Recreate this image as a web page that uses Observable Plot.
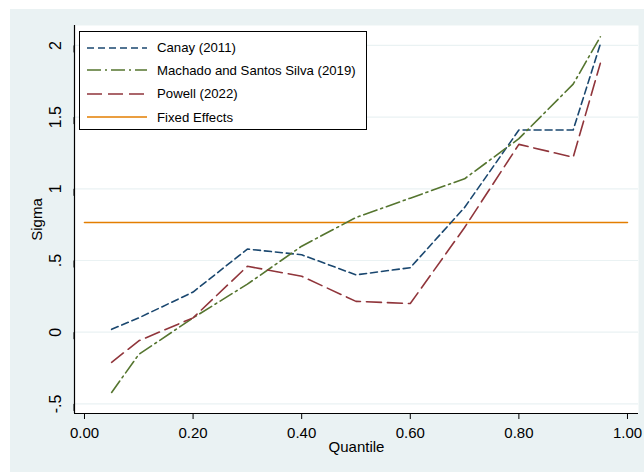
<!DOCTYPE html>
<html><head><meta charset="utf-8">
<script src="https://cdn.jsdelivr.net/npm/d3@7"></script>
<script src="https://cdn.jsdelivr.net/npm/@observablehq/plot@0.6"></script>
<style>
body{margin:0;background:#fff;font-family:"Liberation Sans",Arial,sans-serif;}
#wrap{position:relative;width:644px;height:472px;overflow:hidden;}
#chart{position:absolute;left:10px;top:9px;}
#legend{position:absolute;left:79px;top:31px;width:286px;height:97px;border:1px solid #000;background:#fff;}
.row{position:absolute;left:0;height:20px;display:flex;align-items:center;font-size:13.2px;color:#000;white-space:nowrap;}
.row svg{margin-left:7px;margin-right:10px;}
</style></head><body><div id="wrap"><div id="chart"></div><div id="legend"></div></div>
<script>
// ---- data ----
const quantiles = [0.05, 0.1, 0.2, 0.3, 0.4, 0.5, 0.6, 0.7, 0.8, 0.9, 0.95];
const canay   = [0.02, 0.10, 0.28, 0.58, 0.54, 0.40, 0.45, 0.87, 1.41, 1.41, 2.01];
const machado = [-0.42, -0.155, 0.10, 0.335, 0.60, 0.80, 0.935, 1.07, 1.35, 1.73, 2.06];
const powell  = [-0.21, -0.06, 0.10, 0.46, 0.39, 0.215, 0.20, 0.73, 1.31, 1.22, 1.875];
const fixedEffects = 0.765;
const feQuantiles = [0, 1];
const seriesNames = ["Canay (2011)", "Machado and Santos Silva (2019)", "Powell (2022)", "Fixed Effects"];
const xTicks = [0, 0.2, 0.4, 0.6, 0.8, 1];
const yTicks = [-0.5, 0, 0.5, 1, 1.5, 2];
const yTickLabels = ["-.5", "0", ".5", "1", "1.5", "2"];
const xTitle = "Quantile";
const yTitle = "Sigma";

// ---- styles ----
const colors = ["#1a476f", "#55752f", "#90353b", "#e37e00"];
const dashes = ["7,4", "14,4,2,4", "15,6", null];
const bg = "#eaf2f3";

const rows = [];
[canay, machado, powell].forEach((arr, s) => arr.forEach((v, i) => rows.push({q: quantiles[i], v, s: seriesNames[s]})));
const feRows = feQuantiles.map(q => ({q, v: fixedEffects, s: seriesNames[3]}));
const labelMap = new Map(yTicks.map((t, i) => [t, yTickLabels[i]]));

const xDomain = [-0.0184, 1.0203];
const yDomain = [-0.567, 2.139];

const lineMarks = [0, 1, 2].map(k => Plot.line(rows.filter(d => d.s === seriesNames[k]), {
  x: "q", y: "v", stroke: colors[k], strokeWidth: 1.6, strokeDasharray: dashes[k]
}));

const chart = Plot.plot({
  width: 634, height: 463,
  marginLeft: 64, marginRight: 6, marginTop: 16, marginBottom: 59,
  style: {background: bg, fontFamily: "'Liberation Sans', Arial, sans-serif", fontSize: "15px", color: "#000"},
  x: {domain: xDomain},
  y: {domain: yDomain},
  marks: [
    Plot.frame({fill: "white", stroke: null}),
    Plot.gridY(yTicks, {stroke: bg, strokeOpacity: 1, strokeWidth: 1.2}),
    Plot.ruleX([xDomain[0]], {stroke: "#000", strokeWidth: 1.2}),
    Plot.ruleY([yDomain[0]], {stroke: "#000", strokeWidth: 1.2}),
    Plot.axisX({ticks: xTicks, tickFormat: d3.format(".2f"), tickSize: 6, tickPadding: 8, label: null, fontSize: 15}),
    Plot.axisY({ticks: yTicks, tickFormat: d => labelMap.get(d), tickSize: 7, tickPadding: 12, textAnchor: "middle", rotate: -90, label: null, fontSize: 16}),
    Plot.line(feRows, {x: "q", y: "v", stroke: colors[3], strokeWidth: 1.6}),
    ...lineMarks,
    Plot.text([xTitle], {frameAnchor: "bottom", lineAnchor: "middle", textAnchor: "middle", dy: 34, fontSize: 15, fill: "#000"}),
    Plot.text([yTitle], {frameAnchor: "left", lineAnchor: "middle", textAnchor: "middle", dx: -37, rotate: -90, fontSize: 15, fill: "#000"})
  ]
});
document.getElementById("chart").appendChild(chart);

// ---- legend ----
const legend = d3.select("#legend");
const rowTops = [15.7, 38.3, 61.7, 85];
seriesNames.forEach((name, k) => {
  const r = legend.append("div").attr("class", "row").style("top", (rowTops[k] - 10) + "px");
  const svg = r.append("svg").attr("width", 60).attr("height", 6);
  svg.append("line").attr("x1", 0).attr("x2", 60).attr("y1", 3).attr("y2", 3)
    .attr("stroke", colors[k]).attr("stroke-width", 1.6)
    .attr("stroke-dasharray", dashes[k]);
  r.append("span").text(name);
});
</script>
</body></html>
